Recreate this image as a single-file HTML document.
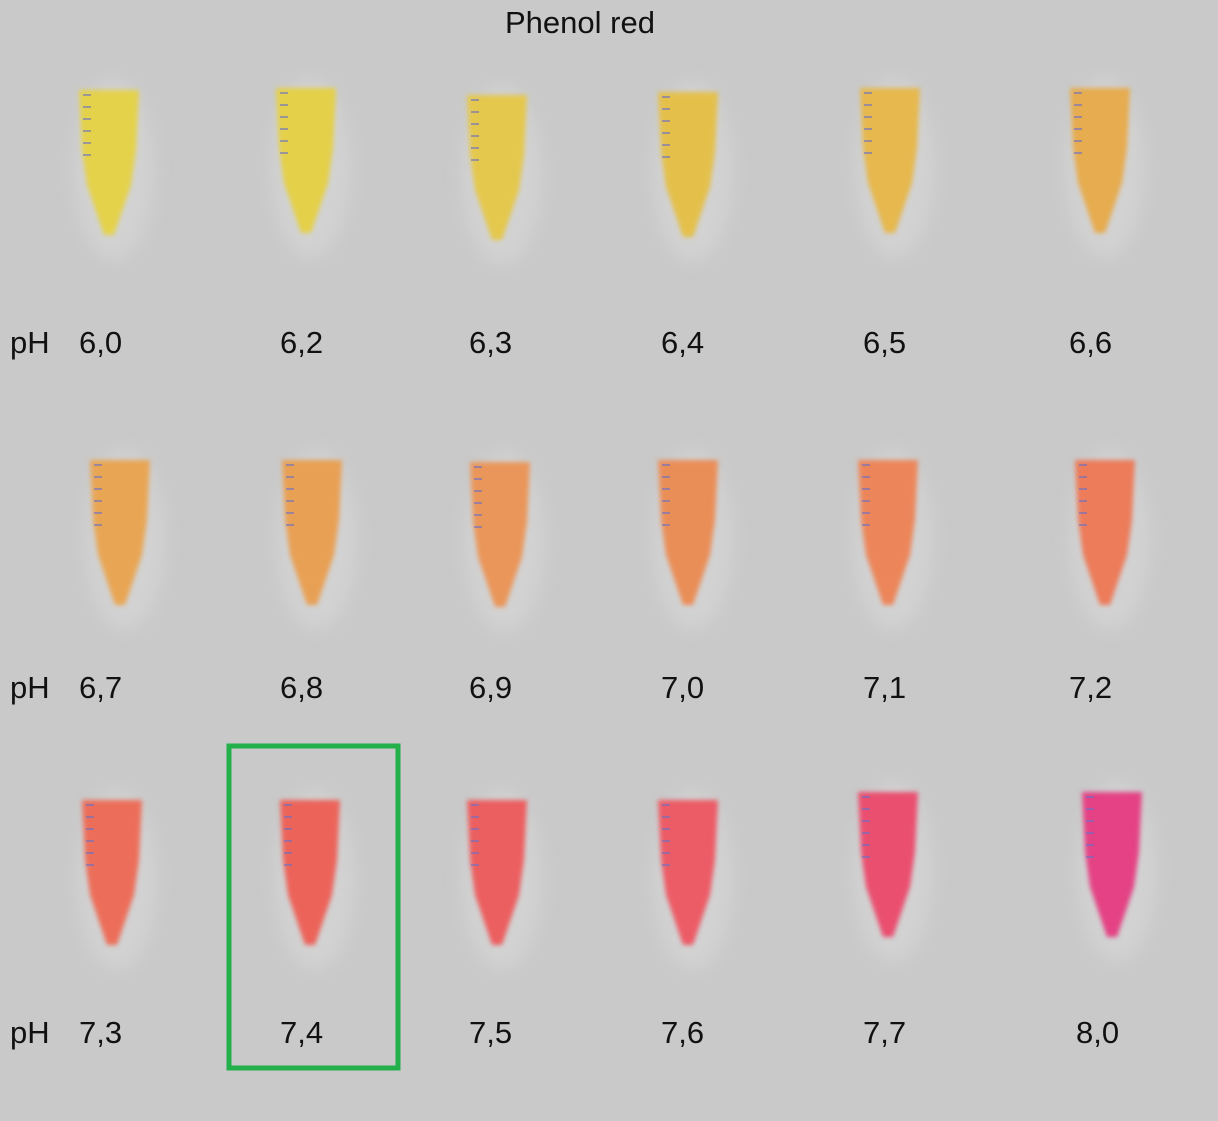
<!DOCTYPE html>
<html><head><style>
body{margin:0;background:#c9c9c9;}
svg{display:block}
text{font-family:"Liberation Sans",sans-serif;fill:#111;font-size:31px}
</style></head><body>
<svg width="1218" height="1121" viewBox="0 0 1218 1121">
<defs>
<filter id="b" x="-30%" y="-30%" width="160%" height="160%"><feGaussianBlur stdDeviation="2.5"/></filter>
<filter id="s" x="-50%" y="-50%" width="200%" height="200%"><feGaussianBlur stdDeviation="8"/></filter>
<g id="tube">
<ellipse cx="5" cy="80" rx="40" ry="90" fill="#d2d2d2" filter="url(#s)"/>
<path d="M-30,0 L30,0 L27,60 L22,95 L5,145 L-5,145 L-22,95 L-27,60 Z" filter="url(#b)"/>
<g stroke="#6a70c8" stroke-width="2" opacity="0.6">
<path d="M-26,5 h8 M-26,17 h8 M-26,29 h8 M-26,41 h8 M-26,53 h8 M-26,65 h8"/>
</g>
</g>
</defs>
<rect width="1218" height="1121" fill="#c9c9c9"/>
<text x="505" y="33" font-size="29">Phenol red</text>
<g>
<use href="#tube" x="109" y="90" fill="#e4d24c"/>
<use href="#tube" x="306" y="88" fill="#e4d04a"/>
<use href="#tube" x="497" y="95" fill="#e4c84e"/>
<use href="#tube" x="688" y="92" fill="#e4c04c"/>
<use href="#tube" x="890" y="88" fill="#e6b84e"/>
<use href="#tube" x="1100" y="88" fill="#e6ac50"/>
<use href="#tube" x="120" y="460" fill="#e8a654"/>
<use href="#tube" x="312" y="460" fill="#e8a054"/>
<use href="#tube" x="500" y="462" fill="#ea965a"/>
<use href="#tube" x="688" y="460" fill="#ea8e58"/>
<use href="#tube" x="888" y="460" fill="#ec865a"/>
<use href="#tube" x="1105" y="460" fill="#ec7c5a"/>
<use href="#tube" x="112" y="800" fill="#ec6e5a"/>
<use href="#tube" x="310" y="800" fill="#ec645a"/>
<use href="#tube" x="497" y="800" fill="#ec5e60"/>
<use href="#tube" x="688" y="800" fill="#ec5c66"/>
<use href="#tube" x="888" y="792" fill="#ea5070"/>
<use href="#tube" x="1112" y="792" fill="#e44284"/>
</g>
<g>
<text x="10" y="353">pH</text><text x="79" y="353">6,0</text><text x="280" y="353">6,2</text><text x="469" y="353">6,3</text><text x="661" y="353">6,4</text><text x="863" y="353">6,5</text><text x="1069" y="353">6,6</text>
<text x="10" y="698">pH</text><text x="79" y="698">6,7</text><text x="280" y="698">6,8</text><text x="469" y="698">6,9</text><text x="661" y="698">7,0</text><text x="863" y="698">7,1</text><text x="1069" y="698">7,2</text>
<text x="10" y="1043">pH</text><text x="79" y="1043">7,3</text><text x="280" y="1043">7,4</text><text x="469" y="1043">7,5</text><text x="661" y="1043">7,6</text><text x="863" y="1043">7,7</text><text x="1076" y="1043">8,0</text>
</g>
<rect x="229" y="746" width="169" height="322" fill="none" stroke="#23b04a" stroke-width="5"/>
</svg>
</body></html>
